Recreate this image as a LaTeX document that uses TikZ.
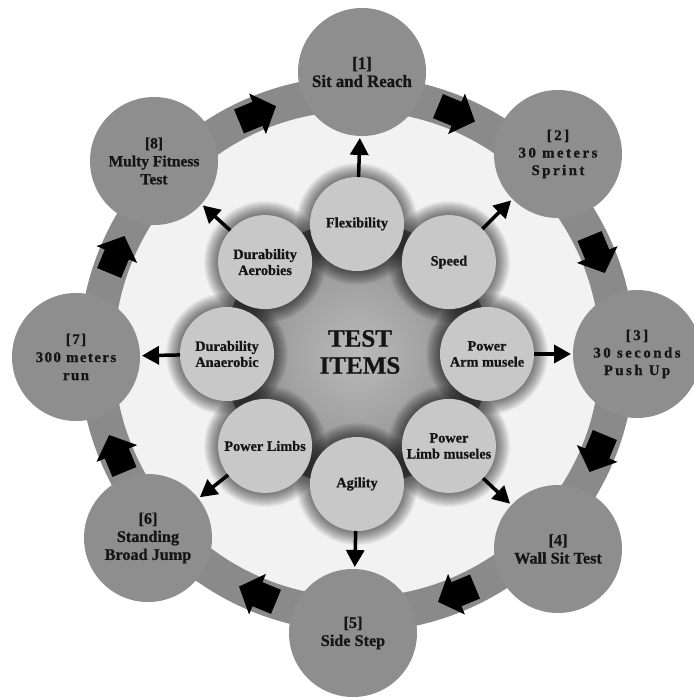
\documentclass[tikz,border=0pt]{standalone}
\usepackage{fontspec}
\setmainfont{Liberation Serif}[BoldFeatures={FakeBold=0.8}]
\newfontfamily\spA{Liberation Serif}[LetterSpace=17,BoldFeatures={FakeBold=0.8}]
\newfontfamily\spB{Liberation Serif}[LetterSpace=10,BoldFeatures={FakeBold=0.8}]
\newfontfamily\spC{Liberation Serif}[FakeStretch=0.96,BoldFeatures={FakeBold=0.8}]
\usetikzlibrary{arrows.meta,calc}
\definecolor{outerg}{HTML}{8E8E8E}
\definecolor{ringg}{HTML}{8A8A8A}
\definecolor{innerg}{HTML}{C8C8C8}
\definecolor{bgin}{HTML}{F2F2F2}
\definecolor{txt}{HTML}{151515}
\begin{document}
\begin{tikzpicture}[x=1pt,y=-1pt,
  outer/.style={circle, fill=outerg, minimum size=128pt, inner sep=0pt, outer sep=0pt, align=center, text=txt},
  outA/.style={outer, font=\spA\fontsize{14.8}{17.5}\selectfont\bfseries},
  outB/.style={outer, font=\spB\fontsize{14.8}{18}\selectfont\bfseries},
  outC/.style={outer, font=\spC\fontsize{17.5}{18}\selectfont\bfseries},
  outD/.style={outer, font=\fontsize{16.2}{18}\selectfont\bfseries},
  inner/.style={circle, fill=innerg, minimum size=94pt, inner sep=0pt, outer sep=0pt, align=center, text=txt, font=\fontsize{14.3}{16}\selectfont\bfseries},
  radial/.style={line width=3.5pt, -{Triangle[length=17pt,width=18pt]}, shorten >=2pt},
  ringarrow/.style={fill=black},
  glow/.style={fill=black, opacity=0.045},
]
\useasboundingbox (0,0) rectangle (693,698);
\fill[white] (0,0) rectangle (693,698);
\coordinate (C) at (357,354);

% light inner disc and ring
\fill[bgin] (C) circle[radius=245pt];
\draw[ringg, line width=35pt] (C) circle[radius=260.5pt];

% block arrows on the ring
\foreach \a in {-67.5,-22.5,22.5,67.5,112.5,157.5,202.5,247.5}
  \fill[ringarrow, shift={($(C)+(\a:260)$)}, rotate={-(\a+90)}]
    (-20,-13) -- (0,-13) -- (0,-22) -- (20,0) -- (0,22) -- (0,13) -- (-20,13) -- cycle;

% outer circles
\node[outC] (o1) at (362,72)  {[1]\\Sit and Reach};
\node[outA] (o2) at (558,154) {[2]\\30 meters\\Sprint};
\node[outA] (o3) at (637,354) {[3]\\30 seconds\\Push Up};
\node[outD] (o4) at (558,549) {[4]\\Wall Sit Test};
\node[outD] (o5) at (353,633) {[5]\\Side Step};
\node[outD] (o6) at (148,538) {[6]\\Standing\\Broad Jump};
\node[outB] (o7) at (76,357)  {[7]\\300 meters\\run};
\node[outD, font=\fontsize{15.5}{18}\selectfont\bfseries] (o8) at (154,161) {[8]\\Multy Fitness\\Test};

% central shape
\shade[inner color=black!27, outer color=black!45] (C) circle[radius=133pt];

% glows around inner circles
\foreach \a in {-90,-45,0,45,90,135,180,225}
  \foreach \k in {1,...,14}
    \fill[glow] ($(C)+(\a:130)$) circle[radius=47pt+\k pt];

% inner circles
\node[inner] (i1) at ($(C)+(-90:130)$) {Flexibility};
\node[inner] (i2) at ($(C)+(-45:130)$) {Speed};
\node[inner] (i3) at ($(C)+(0:130)$)   {Power\\Arm musele};
\node[inner] (i4) at ($(C)+(45:130)$)  {Power\\Limb museles};
\node[inner] (i5) at ($(C)+(90:130)$)  {Agility};
\node[inner] (i6) at ($(C)+(135:130)$) {Power Limbs};
\node[inner] (i7) at ($(C)+(180:130)$) {Durability\\Anaerobic};
\node[inner] (i8) at ($(C)+(225:130)$) {Durability\\Aerobies};

% radial arrows
\draw[radial] (i1) -- (o1);
\draw[radial] (i2) -- (o2);
\draw[radial] (i3) -- (o3);
\draw[radial] (i4) -- (o4);
\draw[radial] (i5) -- (o5);
\draw[radial] (i6) -- (o6);
\draw[radial] (i7) -- (o7);
\draw[radial] (i8) -- (o8);

% title
\node[font=\fontsize{25}{27}\selectfont\bfseries, align=center, text=txt] (title) at (360,352) {TEST\\ITEMS};
\end{tikzpicture}
\end{document}
